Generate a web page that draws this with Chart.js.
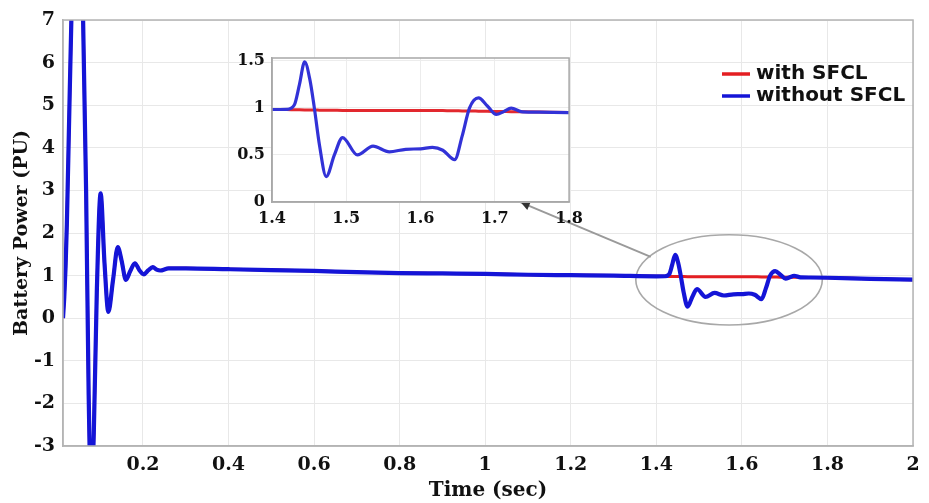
<!DOCTYPE html>
<html><head><meta charset="utf-8">
<script src="https://cdn.jsdelivr.net/npm/chart.js@4.4.0/dist/chart.umd.min.js"></script>
<style>
html,body{margin:0;padding:0;background:#fff;width:929px;height:503px;overflow:hidden}
#wrap{position:relative;width:929px;height:503px}
#main{position:absolute;left:0;top:0;width:929px;height:503px}
#inset{position:absolute;left:200px;top:40px;width:390px;height:200px}
</style></head><body>
<div id="wrap">
<canvas id="main" width="929" height="503"></canvas>
<canvas id="inset" width="390" height="200"></canvas>
</div>
<script>
// ---- data ----
const time = [0.013,0.016,0.019,0.022,0.027,0.033,0.040,0.047,0.054,0.060,0.067,0.073,0.079,0.085,0.092,0.101,0.110,0.119,0.130,0.141,0.150,0.160,0.170,0.181,0.192,0.202,0.212,0.223,0.232,0.240,0.260,0.300,0.400,0.500,0.600,0.700,0.800,0.900,1.000,1.100,1.200,1.300,1.400,1.420,1.430,1.437,1.444,1.451,1.457,1.464,1.473,1.484,1.495,1.515,1.536,1.558,1.580,1.600,1.616,1.630,1.646,1.656,1.666,1.678,1.690,1.702,1.712,1.722,1.737,1.760,1.800,1.900,2.000];
const withoutSFCL = [0,0.5,1.2,2.2,4.5,7.2,9.5,10.5,9.3,7.0,3.0,-1.8,-4.2,-2.7,0.6,2.93,1.3,0.15,0.9,1.67,1.35,0.9,1.1,1.29,1.12,1.03,1.12,1.2,1.14,1.12,1.17,1.17,1.15,1.13,1.11,1.08,1.06,1.05,1.04,1.02,1.01,1.00,0.983,0.985,1.03,1.25,1.49,1.30,1.00,0.60,0.27,0.50,0.685,0.50,0.593,0.533,0.56,0.565,0.58,0.55,0.45,0.70,1.00,1.106,1.02,0.93,0.96,0.997,0.958,0.955,0.95,0.925,0.905];
const withSFCL = [0,0.5,1.2,2.2,4.5,7.2,9.5,10.5,9.3,7.0,3.0,-1.8,-4.2,-2.7,0.6,2.93,1.3,0.15,0.9,1.67,1.35,0.9,1.1,1.29,1.12,1.03,1.12,1.2,1.14,1.12,1.17,1.17,1.15,1.13,1.11,1.08,1.06,1.05,1.04,1.02,1.01,1.00,0.983,0.982,0.980,0.979,0.978,0.977,0.977,0.976,0.975,0.974,0.973,0.973,0.973,0.973,0.973,0.973,0.972,0.971,0.970,0.968,0.967,0.965,0.963,0.962,0.961,0.960,0.958,0.955,0.95,0.925,0.905];
const seriesNames = ['with SFCL','without SFCL'];
const xTickValues = [0.2,0.4,0.6,0.8,1,1.2,1.4,1.6,1.8,2];
const xTickLabels = ['0.2','0.4','0.6','0.8','1','1.2','1.4','1.6','1.8','2'];
const yTickValues = [-3,-2,-1,0,1,2,3,4,5,6,7];
const yTickLabels = ['-3','-2','-1','0','1','2','3','4','5','6','7'];
const insetXTickValues = [1.4,1.5,1.6,1.7,1.8];
const insetXTickLabels = ['1.4','1.5','1.6','1.7','1.8'];
const insetYTickValues = [0,0.5,1,1.5];
const insetYTickLabels = ['0','0.5','1','1.5'];

// ---- styles ----
const RED = 'rgb(228,30,34)';
const BLUE = 'rgb(20,20,215)';
const INSET_BLUE = 'rgb(50,50,215)';
const INSET_RED = 'rgb(226,40,46)';
const SERIF = 'DejaVu Serif';
const TXT = '#111';

function pts(vals){ return time.map((t,i)=>({x:t,y:vals[i]})); }

const mainDecor = {
  id:'mainDecor',
  beforeDraw(chart){
    const c = chart.ctx; c.save(); c.fillStyle='#fff'; c.fillRect(0,0,chart.width,chart.height); c.restore();
  },
  beforeDatasetsDraw(chart){
    const {ctx, scales:{x,y}} = chart;
    // ellipse highlighting the fault window
    const cx = x.getPixelForValue(1.57), cy = y.getPixelForValue(0.9);
    const rx = x.getPixelForValue(1.57+0.218)-cx, ry = cy - y.getPixelForValue(0.9+1.06);
    ctx.save();
    ctx.strokeStyle='#a8a8a8'; ctx.lineWidth=1.6;
    ctx.beginPath(); ctx.ellipse(cx,cy,rx,ry,0,0,Math.PI*2); ctx.stroke();
    ctx.restore();
  },
  afterDraw(chart){
    const {ctx, chartArea:a, scales:{x,y}} = chart;
    ctx.save();
    // plot box
    ctx.strokeStyle='#b4b4b4'; ctx.lineWidth=1.5;
    ctx.strokeRect(a.left,a.top,a.right-a.left,a.bottom-a.top);
    // arrow from ellipse to inset
    const x1 = x.getPixelForValue(1.387), y1 = y.getPixelForValue(1.44);
    const x2 = x.getPixelForValue(1.083), y2 = y.getPixelForValue(2.72);
    ctx.strokeStyle='#9a9a9a'; ctx.lineWidth=2;
    ctx.beginPath(); ctx.moveTo(x1,y1); ctx.lineTo(x2,y2); ctx.stroke();
    const ang = Math.atan2(y2-y1,x2-x1), L=9, W=4.5;
    ctx.fillStyle='#333';
    ctx.beginPath();
    ctx.moveTo(x2,y2);
    ctx.lineTo(x2-L*Math.cos(ang)+W*Math.sin(ang), y2-L*Math.sin(ang)-W*Math.cos(ang));
    ctx.lineTo(x2-L*Math.cos(ang)-W*Math.sin(ang), y2-L*Math.sin(ang)+W*Math.cos(ang));
    ctx.closePath(); ctx.fill();
    // legend
    const items = [{name:chart.data.datasets[0].label,color:RED,y:74},{name:chart.data.datasets[1].label,color:BLUE,y:96}];
    ctx.font = 'bold 20px "DejaVu Sans"';
    ctx.textBaseline='middle'; ctx.textAlign='left';
    items.forEach(it=>{
      ctx.strokeStyle=it.color; ctx.lineWidth=3.5;
      ctx.beginPath(); ctx.moveTo(722,it.y); ctx.lineTo(750,it.y); ctx.stroke();
      ctx.fillStyle=TXT; ctx.fillText(it.name,756,it.y);
    });
    ctx.restore();
  }
};

new Chart(document.getElementById('main'), {
  type:'line',
  data:{datasets:[
    {label:seriesNames[0], data:pts(withSFCL), borderColor:RED, borderWidth:3, pointRadius:0, cubicInterpolationMode:'monotone', order:2},
    {label:seriesNames[1], data:pts(withoutSFCL), borderColor:BLUE, borderWidth:4.2, pointRadius:0, cubicInterpolationMode:'monotone', order:1}
  ]},
  options:{
    responsive:false, animation:false, events:[],
    layout:{padding:{left:0,top:20,right:16,bottom:0}},
    plugins:{legend:{display:false}, tooltip:{enabled:false}},
    scales:{
      x:{type:'linear', min:0.013, max:2,
        afterBuildTicks:s=>{s.ticks = xTickValues.map(v=>({value:v}));},
        afterFit:s=>{s.height=57;},
        grid:{color:'#e8e8e8', lineWidth:1, drawTicks:false},
        border:{color:'#b4b4b4', width:1.5},
        ticks:{padding:8, color:TXT, autoSkip:false, maxRotation:0,
          font:{family:SERIF, weight:'bold', size:19},
          callback:v=>xTickLabels[xTickValues.indexOf(v)]},
        title:{display:true, text:'Time (sec)', color:TXT, padding:{top:0,bottom:0},
          font:{family:SERIF, weight:'bold', size:20}}
      },
      y:{type:'linear', min:-3, max:7,
        afterBuildTicks:s=>{s.ticks = yTickValues.map(v=>({value:v}));},
        afterFit:s=>{s.width=63;},
        grid:{color:'#e8e8e8', lineWidth:1, drawTicks:false},
        border:{color:'#b4b4b4', width:1.5},
        ticks:{padding:8, color:TXT, autoSkip:false,
          font:{family:SERIF, weight:'bold', size:19},
          callback:v=>yTickLabels[yTickValues.indexOf(v)]},
        title:{display:true, text:'Battery Power (PU)', color:TXT, padding:{top:11,bottom:0},
          font:{family:SERIF, weight:'bold', size:19}}
      }
    }
  },
  plugins:[mainDecor]
});

const insetDecor = {
  id:'insetDecor',
  beforeDraw(chart){
    const {ctx, chartArea:a} = chart;
    ctx.save(); ctx.fillStyle='#fff'; ctx.fillRect(a.left,a.top,a.right-a.left,a.bottom-a.top); ctx.restore();
  },
  afterDraw(chart){
    const {ctx, chartArea:a} = chart;
    ctx.save(); ctx.strokeStyle='#a8a8a8'; ctx.lineWidth=1.5;
    ctx.strokeRect(a.left,a.top,a.right-a.left,a.bottom-a.top); ctx.restore();
  }
};

new Chart(document.getElementById('inset'), {
  type:'line',
  data:{datasets:[
    {label:seriesNames[0], data:pts(withSFCL), borderColor:INSET_RED, borderWidth:3, pointRadius:0, cubicInterpolationMode:'monotone', order:2},
    {label:seriesNames[1], data:pts(withoutSFCL), borderColor:INSET_BLUE, borderWidth:3.2, pointRadius:0, cubicInterpolationMode:'monotone', order:1}
  ]},
  options:{
    responsive:false, animation:false, events:[],
    layout:{padding:{left:0,top:18,right:19,bottom:0}},
    plugins:{legend:{display:false}, tooltip:{enabled:false}},
    scales:{
      x:{type:'linear', min:1.4, max:1.8,
        afterBuildTicks:s=>{s.ticks = insetXTickValues.map(v=>({value:v}));},
        afterFit:s=>{s.height=38;},
        grid:{color:'#ececec', lineWidth:1, drawTicks:false},
        border:{color:'#a8a8a8', width:1.5},
        ticks:{padding:7, color:TXT, autoSkip:false, maxRotation:0,
          font:{family:SERIF, weight:'bold', size:16},
          callback:v=>insetXTickLabels[insetXTickValues.indexOf(v)]}
      },
      y:{type:'linear', min:0, max:1.53,
        afterBuildTicks:s=>{s.ticks = insetYTickValues.map(v=>({value:v}));},
        afterFit:s=>{s.width=72;},
        grid:{color:'#ececec', lineWidth:1, drawTicks:false},
        border:{color:'#a8a8a8', width:1.5},
        ticks:{padding:7, color:TXT, autoSkip:false,
          font:{family:SERIF, weight:'bold', size:16},
          callback:v=>insetYTickLabels[insetYTickValues.indexOf(v)]}
      }
    }
  },
  plugins:[insetDecor]
});
</script>
</body></html>
